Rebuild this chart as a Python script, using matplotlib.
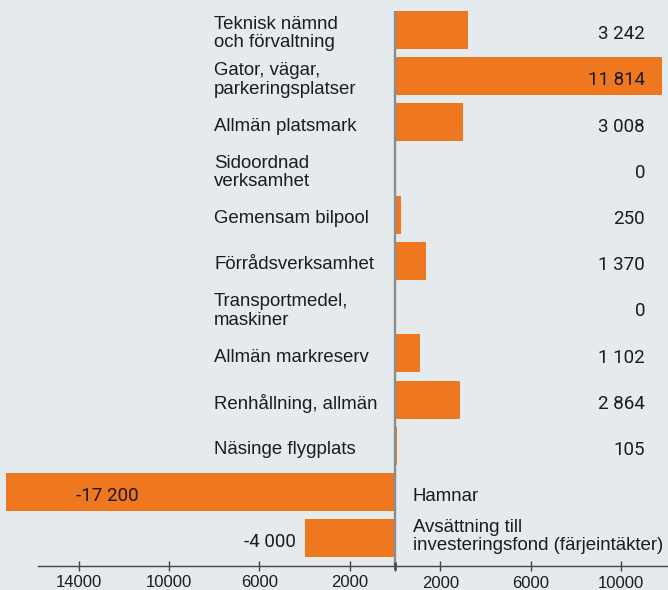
import matplotlib
matplotlib.use("Agg")
import matplotlib.pyplot as plt
from matplotlib.transforms import blended_transform_factory, ScaledTranslation

categories = [
    "Teknisk nämnd\noch förvaltning",
    "Gator, vägar,\nparkeringsplatser",
    "Allmän platsmark",
    "Sidoordnad\nverksamhet",
    "Gemensam bilpool",
    "Förrådsverksamhet",
    "Transportmedel,\nmaskiner",
    "Allmän markreserv",
    "Renhållning, allmän",
    "Näsinge flygplats",
    "Hamnar",
    "Avsättning till\ninvesteringsfond (färjeintäkter)",
]
values = [3242, 11814, 3008, 0, 250, 1370, 0, 1102, 2864, 105, -17200, -4000]
value_labels = ["3 242", "11 814", "3 008", "0", "250", "1 370", "0", "1 102",
                "2 864", "105", "-17 200", "-4 000"]
tick_values = [-14000, -10000, -6000, -2000, 0, 2000, 6000, 10000]
tick_labels = ["14000", "10000", "6000", "2000", "", "2000", "6000", "10000"]

BG = "#e5eaec"
ORANGE = "#ee771f"
TXT = "#1c1c1c"

W, H = 668, 590
scale = 0.0226  # px per unit
x0 = 395
fig = plt.figure(figsize=(W / 100, H / 100), dpi=100, facecolor=BG)
ax_bottom = 24.3
ax = fig.add_axes([0, ax_bottom / H, 1, (H - ax_bottom) / H])
ax.set_facecolor(BG)
ax.set_xlim(-x0 / scale, (W - x0) / scale)
pitch = 46.2
top_c = 30
ax.set_ylim((H - ax_bottom - top_c) / pitch, -top_c / pitch)

n = len(categories)
ypos = list(range(n))
ax.barh(ypos, values, height=0.82, color=ORANGE, zorder=2)

# zero line
ax.plot([0, 0], [-0.41, n - 0.4], color="#8a8c8e", lw=1.7, zorder=3, solid_capstyle="butt")
ax.plot([0, 0], [n - 0.48, n - 0.32], color="#444444", lw=1.8, zorder=4,
        solid_capstyle="butt", clip_on=False)

for s in ["top", "left", "right"]:
    ax.spines[s].set_visible(False)
ax.spines["bottom"].set_color("#444444")
ax.spines["bottom"].set_linewidth(1.0)
ax.spines["bottom"].set_bounds((38 - x0) / scale, (W - x0) / scale)
ax.set_yticks([])
ax.set_xticks(tick_values)
ax.set_xticklabels(tick_labels, fontsize=12, color=TXT, family="Liberation Sans")
ax.tick_params(axis="x", direction="inout", length=7, width=1.0, color="#444444", pad=3.5)
for lbl in ax.get_xticklabels()[5:]:
    lbl.set_transform(lbl.get_transform() + ScaledTranslation(0, -0.6 / 72, fig.dpi_scale_trans))

trans = blended_transform_factory(fig.transFigure, ax.transData)
FS = 13.4
LS = 1.1
for i, (cat, v, lab) in enumerate(zip(categories, values, value_labels)):
    if v >= 0:
        ax.text(214 / W, i + 0.08, cat, transform=trans, ha="left", va="center",
                fontsize=FS, color=TXT, family="Liberation Sans", linespacing=LS)
        ax.text(645 / W, i + 0.09, lab, transform=trans, ha="right", va="center",
                fontsize=13.5, color=TXT, family="Roboto")
    else:
        ax.text(413 / W, i + 0.1 if "\n" not in cat else i - 0.04, cat, transform=trans,
                ha="left", va="center", fontsize=FS, color=TXT,
                family="Liberation Sans", linespacing=LS)

# negative value labels
neg_label_x = [139, 296]
neg_idx = [i for i, v in enumerate(values) if v < 0]
for i, px in zip(neg_idx, neg_label_x):
    ax.text(px / W, i + 0.08, value_labels[i], transform=trans, ha="right", va="center",
            fontsize=13.5, color=TXT, family="Roboto")

fig.savefig("out.png", dpi=100, facecolor=BG)
